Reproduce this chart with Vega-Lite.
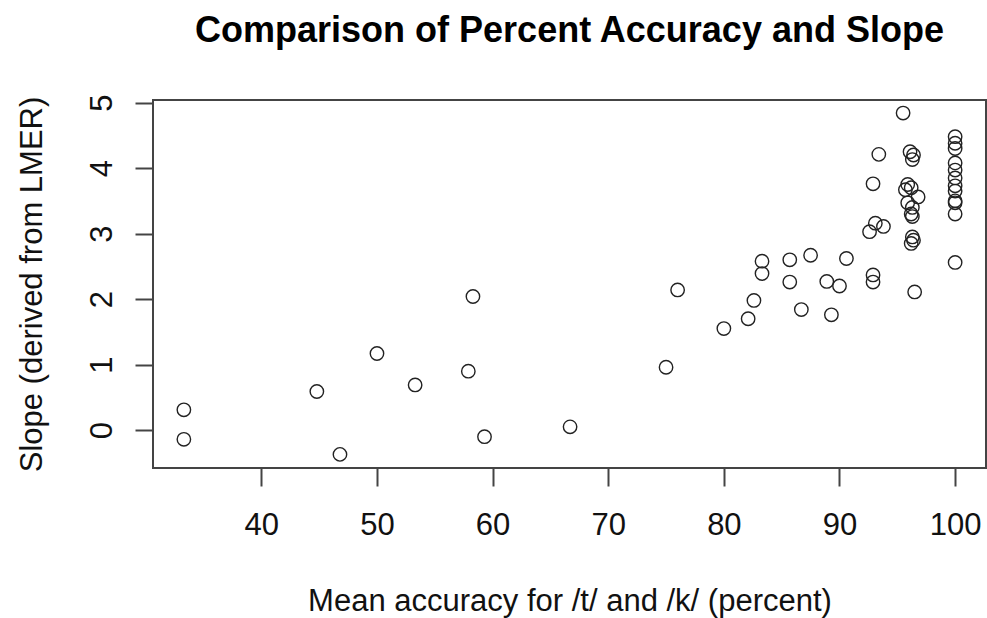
{
  "$schema": "https://vega.github.io/schema/vega-lite/v6.json",
  "autosize": {"type": "none"},
  "width": 833,
  "height": 368,
  "padding": {"left": 153, "top": 100, "right": 1, "bottom": 150},
  "background": "white",
  "config": {
    "font": "Liberation Sans",
    "view": {"stroke": "#444", "strokeWidth": 2}
  },
  "title": {
    "text": "Comparison of Percent Accuracy and Slope",
    "font": "Liberation Sans",
    "fontSize": 36,
    "fontWeight": "bold",
    "color": "black",
    "anchor": "middle",
    "frame": "group",
    "baseline": "alphabetic",
    "offset": 16
  },
  "data": {
    "values": [
      {"accuracy": 33.3, "slope": 0.31},
      {"accuracy": 33.3, "slope": -0.14},
      {"accuracy": 44.8, "slope": 0.59},
      {"accuracy": 50.0, "slope": 1.17},
      {"accuracy": 53.3, "slope": 0.69},
      {"accuracy": 46.8, "slope": -0.37},
      {"accuracy": 58.3, "slope": 2.04},
      {"accuracy": 57.9, "slope": 0.90},
      {"accuracy": 59.3, "slope": -0.10},
      {"accuracy": 66.7, "slope": 0.05},
      {"accuracy": 76.0, "slope": 2.14},
      {"accuracy": 75.0, "slope": 0.96},
      {"accuracy": 80.0, "slope": 1.55},
      {"accuracy": 82.1, "slope": 1.70},
      {"accuracy": 82.6, "slope": 1.98},
      {"accuracy": 83.3, "slope": 2.58},
      {"accuracy": 83.3, "slope": 2.39},
      {"accuracy": 85.7, "slope": 2.60},
      {"accuracy": 85.7, "slope": 2.26},
      {"accuracy": 86.7, "slope": 1.84},
      {"accuracy": 87.5, "slope": 2.67},
      {"accuracy": 88.9, "slope": 2.27},
      {"accuracy": 90.0, "slope": 2.20},
      {"accuracy": 89.3, "slope": 1.76},
      {"accuracy": 90.6, "slope": 2.62},
      {"accuracy": 92.9, "slope": 2.37},
      {"accuracy": 92.9, "slope": 2.26},
      {"accuracy": 92.6, "slope": 3.03},
      {"accuracy": 93.1, "slope": 3.16},
      {"accuracy": 93.8, "slope": 3.11},
      {"accuracy": 92.9, "slope": 3.76},
      {"accuracy": 93.4, "slope": 4.21},
      {"accuracy": 95.5, "slope": 4.84},
      {"accuracy": 96.1, "slope": 4.25},
      {"accuracy": 96.4, "slope": 4.20},
      {"accuracy": 96.3, "slope": 4.13},
      {"accuracy": 95.9, "slope": 3.75},
      {"accuracy": 96.2, "slope": 3.70},
      {"accuracy": 95.7, "slope": 3.67},
      {"accuracy": 96.8, "slope": 3.56},
      {"accuracy": 95.9, "slope": 3.47},
      {"accuracy": 96.3, "slope": 3.40},
      {"accuracy": 96.2, "slope": 3.30},
      {"accuracy": 96.3, "slope": 3.26},
      {"accuracy": 96.3, "slope": 2.95},
      {"accuracy": 96.4, "slope": 2.90},
      {"accuracy": 96.2, "slope": 2.85},
      {"accuracy": 96.5, "slope": 2.11},
      {"accuracy": 100.0, "slope": 4.48},
      {"accuracy": 100.0, "slope": 4.38},
      {"accuracy": 100.0, "slope": 4.30},
      {"accuracy": 100.0, "slope": 4.08},
      {"accuracy": 100.0, "slope": 3.97},
      {"accuracy": 100.0, "slope": 3.85},
      {"accuracy": 100.0, "slope": 3.73},
      {"accuracy": 100.0, "slope": 3.65},
      {"accuracy": 100.0, "slope": 3.50},
      {"accuracy": 100.0, "slope": 3.47},
      {"accuracy": 100.0, "slope": 3.30},
      {"accuracy": 100.0, "slope": 2.56}
    ]
  },
  "mark": {
    "type": "point",
    "shape": "circle",
    "filled": false,
    "size": 180,
    "stroke": "#222",
    "strokeWidth": 1.4,
    "opacity": 1
  },
  "encoding": {
    "x": {
      "field": "accuracy",
      "type": "quantitative",
      "scale": {"domain": [30.63, 102.67], "nice": false, "zero": false},
      "axis": {
        "title": "Mean accuracy for /t/ and /k/ (percent)",
        "values": [40, 50, 60, 70, 80, 90, 100],
        "grid": false,
        "domain": false,
        "ticks": true,
        "tickSize": 18,
        "tickWidth": 2,
        "tickColor": "#444",
        "labelFont": "Liberation Sans",
        "labelFontSize": 31,
        "labelColor": "#111",
        "labelPadding": 24,
        "labelBaseline": "top",
        "labelFlush": false,
        "titleFont": "Liberation Sans",
        "titleFontSize": 31,
        "titleFontWeight": "normal",
        "titleColor": "#111",
        "titleBaseline": "alphabetic",
        "titleY": 142
      }
    },
    "y": {
      "field": "slope",
      "type": "quantitative",
      "scale": {"domain": [-0.578, 5.04], "nice": false, "zero": false},
      "axis": {
        "title": "Slope (derived from LMER)",
        "values": [0, 1, 2, 3, 4, 5],
        "grid": false,
        "domain": false,
        "ticks": true,
        "tickSize": 18,
        "tickWidth": 2,
        "tickColor": "#444",
        "labelFont": "Liberation Sans",
        "labelFontSize": 31,
        "labelColor": "#111",
        "labelAngle": -90,
        "labelAlign": "center",
        "labelBaseline": "alphabetic",
        "labelPadding": 24,
        "labelFlush": false,
        "titleFont": "Liberation Sans",
        "titleFontSize": 31,
        "titleFontWeight": "normal",
        "titleColor": "#111",
        "titleAngle": -90,
        "titleAlign": "center",
        "titleBaseline": "alphabetic",
        "titleX": -112,
        "titleY": 184
      }
    }
  }
}
